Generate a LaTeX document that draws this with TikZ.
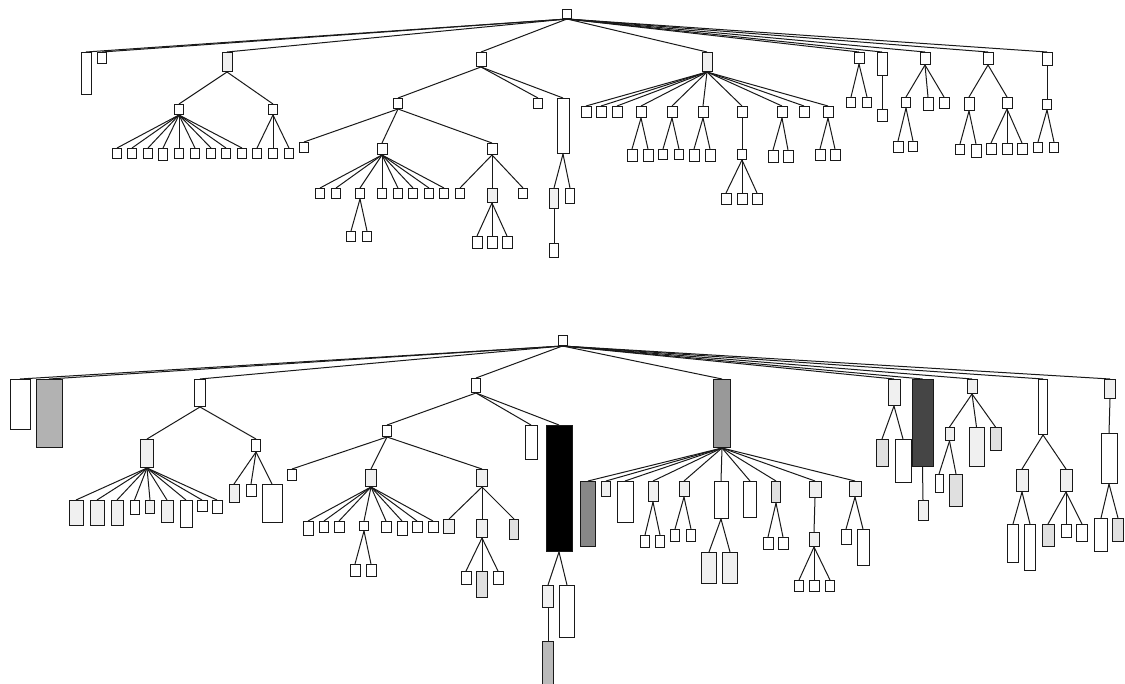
\documentclass[tikz,border=0pt]{standalone}
\usepackage{tikz}

\begin{document}
\begin{tikzpicture}
        [x=1pt, y=-1pt,
        bx/.style 2 args={rectangle, draw=black!90, line width=1pt, fill=white, inner sep=0pt, anchor=north, minimum width=#1pt, minimum height=#2pt},
        lf/.style={bx={9}{10}},
        pale/.style={fill=black!6},
        lgray/.style={fill=black!12},
        gray1/.style={fill=black!30},
        gray2/.style={fill=black!40},
        gray3/.style={fill=black!47},
        gray4/.style={fill=black!73},
        every edge/.style={draw=black!90, line width=1pt}]
        \useasboundingbox (0,0) rectangle (1125,684);
        \clip (0,0) rectangle (1125,684);

        % upper tree
        \node[bx={9}{9}]            (tr)    at (567,9)   {};
        \node[bx={10}{42}]          (tk1)   at (86,52)   {};
        \node[bx={9}{11}]           (tk2)   at (102,52)  {};

        \node[bx={10}{19}, pale]    (ta)    at (227,52)  {};
        \node[lf]                   (ta1)   at (179,104) {};
        \node[lf]                   (ta11)  at (117,148) {};
        \node[lf]                   (ta12)  at (132,148) {};
        \node[lf]                   (ta13)  at (148,148) {};
        \node[bx={9}{12}]           (ta14)  at (163,148) {};
        \node[lf]                   (ta15)  at (179,148) {};
        \node[lf]                   (ta16)  at (195,148) {};
        \node[lf]                   (ta17)  at (211,148) {};
        \node[lf]                   (ta18)  at (226,148) {};
        \node[lf]                   (ta19)  at (242,148) {};
        \node[lf]                   (ta2)   at (273,104) {};
        \node[lf]                   (ta21)  at (257,148) {};
        \node[lf]                   (ta22)  at (273,148) {};
        \node[lf]                   (ta23)  at (289,148) {};

        \node[bx={10}{14}]          (tb)    at (481,52)  {};
        \node[lf]                   (tb1)   at (398,98)  {};
        \node[lf]                   (tb11)  at (304,142) {};
        \node[bx={10}{11}]          (tb12)  at (382,143) {};
        \node[lf]                   (tb121) at (320,188) {};
        \node[lf]                   (tb122) at (336,188) {};
        \node[lf]                   (tb123) at (360,188) {};
        \node[lf]                   (tb124) at (382,188) {};
        \node[lf]                   (tb125) at (398,188) {};
        \node[lf]                   (tb126) at (413,188) {};
        \node[lf]                   (tb127) at (429,188) {};
        \node[lf]                   (tb128) at (444,188) {};
        \node[lf]                   (tb1231) at (351,231) {};
        \node[lf]                   (tb1232) at (367,231) {};
        \node[bx={10}{11}]          (tb13)  at (492,143) {};
        \node[lf]                   (tb131) at (460,188) {};
        \node[bx={10}{14}, pale]    (tb132) at (492,188) {};
        \node[lf]                   (tb133) at (523,188) {};
        \node[bx={10}{12}]          (tb1321) at (477,236) {};
        \node[bx={10}{12}]          (tb1322) at (492,236) {};
        \node[bx={10}{12}]          (tb1323) at (507,236) {};
        \node[lf]                   (tb2)   at (538,98)  {};
        \node[bx={12}{55}]          (tb3)   at (563,98)  {};
        \node[bx={9}{20}, pale]     (tb31)  at (554,188) {};
        \node[bx={9}{14}]           (tb311) at (554,243) {};
        \node[bx={9}{15}]           (tb32)  at (570,188) {};

        \node[bx={10}{19}, pale]    (tc)    at (707,52)  {};
        \node[bx={10}{11}]          (tc1)   at (586,106) {};
        \node[bx={10}{11}]          (tc2)   at (601,106) {};
        \node[bx={10}{11}]          (tc3)   at (617,106) {};
        \node[bx={10}{11}]          (tc4)   at (641,106) {};
        \node[bx={10}{11}]          (tc5)   at (672,106) {};
        \node[bx={10}{11}]          (tc6)   at (703,106) {};
        \node[bx={10}{11}]          (tc7)   at (742,106) {};
        \node[bx={10}{11}]          (tc8)   at (782,106) {};
        \node[bx={10}{11}]          (tc9)   at (804,106) {};
        \node[bx={10}{11}]          (tc10)  at (828,106) {};
        \node[bx={10}{12}]          (tc41)  at (632,149) {};
        \node[bx={10}{12}]          (tc42)  at (648,149) {};
        \node[lf]                   (tc51)  at (663,149) {};
        \node[lf]                   (tc52)  at (679,149) {};
        \node[bx={10}{12}]          (tc61)  at (694,149) {};
        \node[bx={10}{12}]          (tc62)  at (710,149) {};
        \node[lf]                   (tc71)  at (742,149) {};
        \node[bx={10}{11}]          (tc711) at (726,193) {};
        \node[bx={10}{11}]          (tc712) at (742,193) {};
        \node[bx={10}{11}]          (tc713) at (757,193) {};
        \node[bx={10}{12}]          (tc81)  at (773,150) {};
        \node[bx={10}{12}]          (tc82)  at (788,150) {};
        \node[bx={10}{11}]          (tc101) at (820,149) {};
        \node[bx={10}{11}]          (tc102) at (835,149) {};

        \node[bx={10}{11}]          (td)    at (859,52)  {};
        \node[lf]                   (td1)   at (851,97)  {};
        \node[lf]                   (td2)   at (867,97)  {};
        \node[bx={10}{23}]          (te)    at (882,52)  {};
        \node[bx={10}{12}]          (te1)   at (882,109) {};
        \node[bx={10}{12}]          (tf)    at (925,52)  {};
        \node[lf]                   (tf1)   at (906,97)  {};
        \node[bx={10}{13}]          (tf2)   at (928,97)  {};
        \node[bx={10}{11}]          (tf3)   at (944,97)  {};
        \node[bx={10}{11}]          (tf11)  at (898,141) {};
        \node[lf]                   (tf12)  at (913,141) {};
        \node[bx={10}{12}]          (tg)    at (988,52)  {};
        \node[bx={10}{13}]          (tg1)   at (969,97)  {};
        \node[bx={10}{11}]          (tg2)   at (1007,97) {};
        \node[lf]                   (tg11)  at (960,144) {};
        \node[bx={10}{13}]          (tg12)  at (976,144) {};
        \node[bx={10}{11}]          (tg21)  at (991,143) {};
        \node[bx={10}{11}]          (tg22)  at (1007,143) {};
        \node[bx={10}{11}]          (tg23)  at (1022,143) {};
        \node[bx={10}{13}]          (th)    at (1047,52) {};
        \node[lf]                   (th1)   at (1047,99) {};
        \node[lf]                   (th11)  at (1038,142) {};
        \node[lf]                   (th12)  at (1054,142) {};

        \path (tr.south) edge (tk1.north)
              (tr.south) edge (tk2.north)
              (tr.south) edge (ta.north)
              (tr.south) edge (tb.north)
              (tr.south) edge (tc.north)
              (tr.south) edge (td.north)
              (tr.south) edge (te.north)
              (tr.south) edge (tf.north)
              (tr.south) edge (tg.north)
              (tr.south) edge (th.north)
              (ta.south) edge (ta1.north)
              (ta.south) edge (ta2.north)
              (ta1.south) edge (ta11.north)
              (ta1.south) edge (ta12.north)
              (ta1.south) edge (ta13.north)
              (ta1.south) edge (ta14.north)
              (ta1.south) edge (ta15.north)
              (ta1.south) edge (ta16.north)
              (ta1.south) edge (ta17.north)
              (ta1.south) edge (ta18.north)
              (ta1.south) edge (ta19.north)
              (ta2.south) edge (ta21.north)
              (ta2.south) edge (ta22.north)
              (ta2.south) edge (ta23.north)
              (tb.south) edge (tb1.north)
              (tb.south) edge (tb2.north)
              (tb.south) edge (tb3.north)
              (tb1.south) edge (tb11.north)
              (tb1.south) edge (tb12.north)
              (tb1.south) edge (tb13.north)
              (tb12.south) edge (tb121.north)
              (tb12.south) edge (tb122.north)
              (tb12.south) edge (tb123.north)
              (tb12.south) edge (tb124.north)
              (tb12.south) edge (tb125.north)
              (tb12.south) edge (tb126.north)
              (tb12.south) edge (tb127.north)
              (tb12.south) edge (tb128.north)
              (tb123.south) edge (tb1231.north)
              (tb123.south) edge (tb1232.north)
              (tb13.south) edge (tb131.north)
              (tb13.south) edge (tb132.north)
              (tb13.south) edge (tb133.north)
              (tb132.south) edge (tb1321.north)
              (tb132.south) edge (tb1322.north)
              (tb132.south) edge (tb1323.north)
              (tb3.south) edge (tb31.north)
              (tb3.south) edge (tb32.north)
              (tb31.south) edge (tb311.north)
              (tc.south) edge (tc1.north)
              (tc.south) edge (tc2.north)
              (tc.south) edge (tc3.north)
              (tc.south) edge (tc4.north)
              (tc.south) edge (tc5.north)
              (tc.south) edge (tc6.north)
              (tc.south) edge (tc7.north)
              (tc.south) edge (tc8.north)
              (tc.south) edge (tc9.north)
              (tc.south) edge (tc10.north)
              (tc4.south) edge (tc41.north)
              (tc4.south) edge (tc42.north)
              (tc5.south) edge (tc51.north)
              (tc5.south) edge (tc52.north)
              (tc6.south) edge (tc61.north)
              (tc6.south) edge (tc62.north)
              (tc7.south) edge (tc71.north)
              (tc71.south) edge (tc711.north)
              (tc71.south) edge (tc712.north)
              (tc71.south) edge (tc713.north)
              (tc8.south) edge (tc81.north)
              (tc8.south) edge (tc82.north)
              (tc10.south) edge (tc101.north)
              (tc10.south) edge (tc102.north)
              (td.south) edge (td1.north)
              (td.south) edge (td2.north)
              (te.south) edge (te1.north)
              (tf.south) edge (tf1.north)
              (tf.south) edge (tf2.north)
              (tf.south) edge (tf3.north)
              (tf1.south) edge (tf11.north)
              (tf1.south) edge (tf12.north)
              (tg.south) edge (tg1.north)
              (tg.south) edge (tg2.north)
              (tg1.south) edge (tg11.north)
              (tg1.south) edge (tg12.north)
              (tg2.south) edge (tg21.north)
              (tg2.south) edge (tg22.north)
              (tg2.south) edge (tg23.north)
              (th.south) edge (th1.north)
              (th1.south) edge (th11.north)
              (th1.south) edge (th12.north);

        % lower tree, sized and shaded boxes
        \node[bx={9}{10}]           (sr)    at (562.5,335) {};
        \node[bx={20}{50}]          (sk1)   at (20,379)  {};
        \node[bx={26}{68}, gray1]   (sk2)   at (49,379)  {};

        \node[bx={11}{27}]          (sa)    at (200,379) {};
        \node[bx={13}{28}, pale]    (sa1)   at (147,439) {};
        \node[bx={14}{25}, pale]    (sa11)  at (76,500)  {};
        \node[bx={14}{25}, pale]    (sa12)  at (97,500)  {};
        \node[bx={12}{25}, pale]    (sa13)  at (117,500) {};
        \node[bx={9}{14}]           (sa14)  at (134.5,500) {};
        \node[bx={9}{13}, pale]     (sa15)  at (150,500) {};
        \node[bx={12}{22}, pale]    (sa16)  at (167,500) {};
        \node[bx={12}{27}]          (sa17)  at (186,500) {};
        \node[bx={10}{11}]          (sa18)  at (202,500) {};
        \node[bx={10}{13}]          (sa19)  at (217,500) {};
        \node[bx={9}{12}]           (sa2)   at (256,439) {};
        \node[bx={10}{18}, pale]    (sa21)  at (234,484) {};
        \node[bx={10}{12}]          (sa22)  at (251,484) {};
        \node[bx={20}{38}]          (sa23)  at (272,484) {};

        \node[bx={9}{14}]           (sb)    at (476,378) {};
        \node[bx={9}{11}]           (sb1)   at (387,425) {};
        \node[bx={9}{11}]           (sb11)  at (292,469) {};
        \node[bx={11}{17}, pale]    (sb12)  at (371,469) {};
        \node[bx={10}{14}]          (sb121) at (308,521) {};
        \node[bx={9}{11}]           (sb122) at (324,521) {};
        \node[bx={10}{11}]          (sb123) at (339,521) {};
        \node[bx={9}{9}]            (sb124) at (364,521) {};
        \node[bx={10}{11}]          (sb125) at (386,521) {};
        \node[bx={10}{14}]          (sb126) at (402,521) {};
        \node[bx={10}{11}]          (sb127) at (417,521) {};
        \node[bx={10}{11}]          (sb128) at (433,521) {};
        \node[bx={10}{12}]          (sb1241) at (355,564) {};
        \node[bx={10}{12}]          (sb1242) at (371,564) {};
        \node[bx={11}{17}, pale]    (sb13)  at (482,469) {};
        \node[bx={11}{14}, pale]    (sb131) at (449,519) {};
        \node[bx={11}{18}, pale]    (sb132) at (482,519) {};
        \node[bx={9}{20}, lgray]    (sb133) at (514,519) {};
        \node[bx={10}{13}]          (sb1321) at (466,571) {};
        \node[bx={11}{26}, lgray]   (sb1322) at (482,571) {};
        \node[bx={10}{13}]          (sb1323) at (498,571) {};
        \node[bx={12}{34}]          (sb2)   at (531,425) {};
        \node[bx={26}{126}, fill=black] (sb3) at (559,425) {};
        \node[bx={11}{22}, pale]    (sb31)  at (548,585) {};
        \node[bx={11}{50}, fill=black!27] (sb311) at (548,641) {};
        \node[bx={15}{52}]          (sb32)  at (567,585) {};

        \node[bx={17}{68}, gray2]   (sc)    at (722,379) {};
        \node[bx={15}{65}, gray3]   (sc1)   at (588,481) {};
        \node[bx={9}{15}, pale]     (sc2)   at (606,481) {};
        \node[bx={16}{41}]          (sc3)   at (625,481) {};
        \node[bx={10}{20}, pale]    (sc4)   at (653,481) {};
        \node[bx={10}{15}, pale]    (sc5)   at (684,481) {};
        \node[bx={14}{37}]          (sc6)   at (721,481) {};
        \node[bx={13}{36}]          (sc7)   at (750,481) {};
        \node[bx={9}{21}, lgray]    (sc8)   at (776,481) {};
        \node[bx={12}{16}, pale]    (sc9)   at (815,481) {};
        \node[bx={12}{15}, pale]    (sc10)  at (855,481) {};
        \node[bx={9}{12}]           (sc41)  at (645,535) {};
        \node[bx={9}{12}]           (sc42)  at (660,535) {};
        \node[bx={9}{12}]           (sc51)  at (675,529) {};
        \node[bx={9}{12}]           (sc52)  at (691,529) {};
        \node[bx={15}{31}, pale]    (sc61)  at (709,552) {};
        \node[bx={15}{31}, pale]    (sc62)  at (730,552) {};
        \node[bx={10}{12}]          (sc81)  at (768,537) {};
        \node[bx={10}{12}]          (sc82)  at (783,537) {};
        \node[bx={10}{14}, pale]    (sc91)  at (814,532) {};
        \node[bx={9}{11}]           (sc911) at (799,580) {};
        \node[bx={10}{11}]          (sc912) at (814,580) {};
        \node[bx={9}{11}]           (sc913) at (830,580) {};
        \node[bx={10}{15}]          (sc101) at (846,529) {};
        \node[bx={12}{36}]          (sc102) at (863,529) {};

        \node[bx={12}{26}, pale]    (sd)    at (894,379) {};
        \node[bx={12}{27}, lgray]   (sd1)   at (882,439) {};
        \node[bx={16}{43}]          (sd2)   at (903,439) {};
        \node[bx={21}{87}, gray4]   (se)    at (922.5,379) {};
        \node[bx={10}{20}, pale]    (se1)   at (923,500) {};
        \node[bx={10}{14}, pale]    (sf)    at (972,379) {};
        \node[bx={9}{13}, pale]     (sf1)   at (949.5,427) {};
        \node[bx={15}{39}, pale]    (sf2)   at (976.5,427) {};
        \node[bx={11}{23}, lgray]   (sf3)   at (995.5,427) {};
        \node[bx={8}{18}]           (sf11)  at (939,474) {};
        \node[bx={13}{32}, lgray]   (sf12)  at (956,474) {};
        \node[bx={9}{55}]           (sg)    at (1043,379) {};
        \node[bx={12}{22}, pale]    (sg1)   at (1022,469) {};
        \node[bx={12}{22}, pale]    (sg2)   at (1066,469) {};
        \node[bx={11}{38}]          (sg11)  at (1013,524) {};
        \node[bx={11}{46}]          (sg12)  at (1030,524) {};
        \node[bx={12}{22}, lgray]   (sg21)  at (1048,524) {};
        \node[bx={10}{13}]          (sg22)  at (1066,524) {};
        \node[bx={11}{17}]          (sg23)  at (1082,524) {};
        \node[bx={11}{19}, pale]    (sh)    at (1110,379) {};
        \node[bx={16}{50}]          (sh1)   at (1109,433) {};
        \node[bx={13}{33}]          (sh11)  at (1101,518) {};
        \node[bx={11}{23}, lgray]   (sh12)  at (1118,518) {};

        \path (sr.south) edge (sk1.north)
              (sr.south) edge (sk2.north)
              (sr.south) edge (sa.north)
              (sr.south) edge (sb.north)
              (sr.south) edge (sc.north)
              (sr.south) edge (sd.north)
              (sr.south) edge (se.north)
              (sr.south) edge (sf.north)
              (sr.south) edge (sg.north)
              (sr.south) edge (sh.north)
              (sa.south) edge (sa1.north)
              (sa.south) edge (sa2.north)
              (sa1.south) edge (sa11.north)
              (sa1.south) edge (sa12.north)
              (sa1.south) edge (sa13.north)
              (sa1.south) edge (sa14.north)
              (sa1.south) edge (sa15.north)
              (sa1.south) edge (sa16.north)
              (sa1.south) edge (sa17.north)
              (sa1.south) edge (sa18.north)
              (sa1.south) edge (sa19.north)
              (sa2.south) edge (sa21.north)
              (sa2.south) edge (sa22.north)
              (sa2.south) edge (sa23.north)
              (sb.south) edge (sb1.north)
              (sb.south) edge (sb2.north)
              (sb.south) edge (sb3.north)
              (sb1.south) edge (sb11.north)
              (sb1.south) edge (sb12.north)
              (sb1.south) edge (sb13.north)
              (sb12.south) edge (sb121.north)
              (sb12.south) edge (sb122.north)
              (sb12.south) edge (sb123.north)
              (sb12.south) edge (sb124.north)
              (sb12.south) edge (sb125.north)
              (sb12.south) edge (sb126.north)
              (sb12.south) edge (sb127.north)
              (sb12.south) edge (sb128.north)
              (sb124.south) edge (sb1241.north)
              (sb124.south) edge (sb1242.north)
              (sb13.south) edge (sb131.north)
              (sb13.south) edge (sb132.north)
              (sb13.south) edge (sb133.north)
              (sb132.south) edge (sb1321.north)
              (sb132.south) edge (sb1322.north)
              (sb132.south) edge (sb1323.north)
              (sb3.south) edge (sb31.north)
              (sb3.south) edge (sb32.north)
              (sb31.south) edge (sb311.north)
              (sc.south) edge (sc1.north)
              (sc.south) edge (sc2.north)
              (sc.south) edge (sc3.north)
              (sc.south) edge (sc4.north)
              (sc.south) edge (sc5.north)
              (sc.south) edge (sc6.north)
              (sc.south) edge (sc7.north)
              (sc.south) edge (sc8.north)
              (sc.south) edge (sc9.north)
              (sc.south) edge (sc10.north)
              (sc4.south) edge (sc41.north)
              (sc4.south) edge (sc42.north)
              (sc5.south) edge (sc51.north)
              (sc5.south) edge (sc52.north)
              (sc6.south) edge (sc61.north)
              (sc6.south) edge (sc62.north)
              (sc8.south) edge (sc81.north)
              (sc8.south) edge (sc82.north)
              (sc9.south) edge (sc91.north)
              (sc91.south) edge (sc911.north)
              (sc91.south) edge (sc912.north)
              (sc91.south) edge (sc913.north)
              (sc10.south) edge (sc101.north)
              (sc10.south) edge (sc102.north)
              (sd.south) edge (sd1.north)
              (sd.south) edge (sd2.north)
              (se.south) edge (se1.north)
              (sf.south) edge (sf1.north)
              (sf.south) edge (sf2.north)
              (sf.south) edge (sf3.north)
              (sf1.south) edge (sf11.north)
              (sf1.south) edge (sf12.north)
              (sg.south) edge (sg1.north)
              (sg.south) edge (sg2.north)
              (sg1.south) edge (sg11.north)
              (sg1.south) edge (sg12.north)
              (sg2.south) edge (sg21.north)
              (sg2.south) edge (sg22.north)
              (sg2.south) edge (sg23.north)
              (sh.south) edge (sh1.north)
              (sh1.south) edge (sh11.north)
              (sh1.south) edge (sh12.north);
\end{tikzpicture}
\end{document}
